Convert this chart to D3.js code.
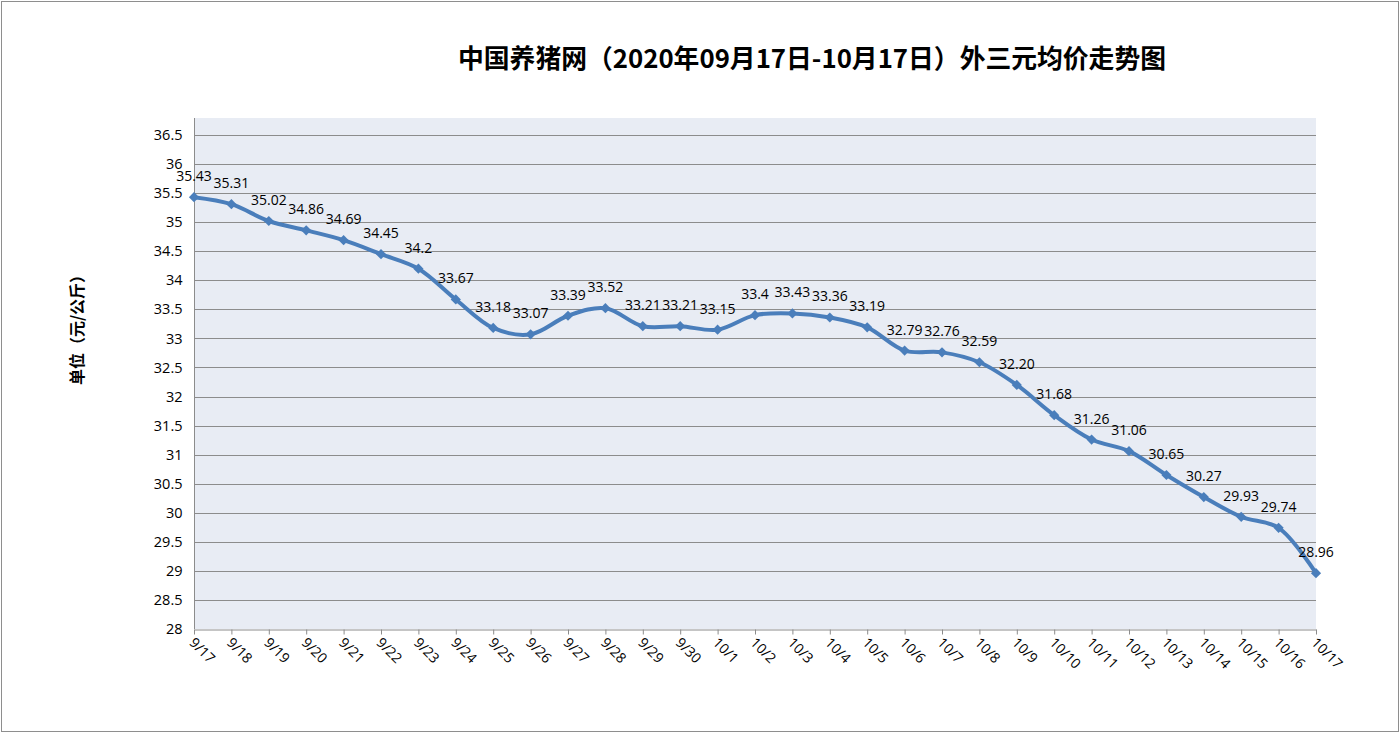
<!DOCTYPE html>
<html><head><meta charset="utf-8">
<script src="https://cdn.jsdelivr.net/npm/d3@7/dist/d3.min.js"></script>
<style>body{margin:0;background:#fff;}svg{display:block;}</style>
</head><body>
<script>
const categories = ["9/17","9/18","9/19","9/20","9/21","9/22","9/23","9/24","9/25","9/26","9/27","9/28","9/29","9/30","10/1","10/2","10/3","10/4","10/5","10/6","10/7","10/8","10/9","10/10","10/11","10/12","10/13","10/14","10/15","10/16","10/17"];
const prices = [35.43,35.31,35.02,34.86,34.69,34.45,34.2,33.67,33.18,33.07,33.39,33.52,33.21,33.21,33.15,33.4,33.43,33.36,33.19,32.79,32.76,32.59,32.20,31.68,31.26,31.06,30.65,30.27,29.93,29.74,28.96];
const priceLabels = ["35.43","35.31","35.02","34.86","34.69","34.45","34.2","33.67","33.18","33.07","33.39","33.52","33.21","33.21","33.15","33.4","33.43","33.36","33.19","32.79","32.76","32.59","32.20","31.68","31.26","31.06","30.65","30.27","29.93","29.74","28.96"];
const yTicks = [28,28.5,29,29.5,30,30.5,31,31.5,32,32.5,33,33.5,34,34.5,35,35.5,36,36.5];
const yTickLabels = ["28","28.5","29","29.5","30","30.5","31","31.5","32","32.5","33","33.5","34","34.5","35","35.5","36","36.5"];
const title = "中国养猪网（2020年09月17日-10月17日）外三元均价走势图";
const yTitle = "单位（元/公斤）";

(function(){
const W = 1400, H = 733;
const svg = d3.select("body").append("svg").attr("width", W).attr("height", H);
svg.append("rect").attr("x",1.5).attr("y",1.5).attr("width",W-3).attr("height",H-3)
  .attr("fill","#fff").attr("stroke","#8e8e8e").attr("stroke-width",1);

const pl = 194, pr = 1316, pt = 118, pb = 629;
const x = d3.scalePoint().domain(categories).range([pl, pr]);
const y = d3.scaleLinear().domain([28, 36.5]).range([pb, 135]);
const font = "'Open Sans','Noto Sans',sans-serif";

svg.append("rect").attr("x",pl).attr("y",pt).attr("width",pr-pl).attr("height",pb-pt).attr("fill","#E8ECF4");

svg.append("g").selectAll("line").data(yTicks.slice(1)).join("line")
  .attr("x1",pl).attr("x2",pr).attr("y1",d=>Math.round(y(d))+0.5).attr("y2",d=>Math.round(y(d))+0.5)
  .attr("stroke","#8c8c8c").attr("stroke-width",1);

const ya = svg.append("g").attr("transform",`translate(${pl+0.5},0)`)
  .call(d3.axisLeft(y).tickValues(yTicks).tickFormat((d,i)=>yTickLabels[i]).tickSize(0).tickPadding(12));
ya.select(".domain").attr("stroke","#8c8c8c").attr("d",`M0,${pt}V${pb}`);
ya.selectAll("text").attr("font-family",font).attr("font-size",14.5).attr("fill","#000");

const xa = svg.append("g").attr("transform",`translate(0,${pb+0.5})`)
  .call(d3.axisBottom(x).tickSize(5).tickSizeOuter(0));
xa.select(".domain").attr("stroke","#8c8c8c");
xa.selectAll("line").attr("stroke","#8c8c8c");
xa.selectAll("text").attr("font-family",font).attr("font-size",14).attr("fill","#000")
  .attr("text-anchor","start").attr("dy",0).attr("y",0)
  .attr("transform","translate(-6,14) rotate(45)");

const data = categories.map((c,i)=>({c, v:prices[i], l:priceLabels[i]}));
svg.append("path").datum(data)
  .attr("d", d3.line().x(d=>x(d.c)).y(d=>y(d.v)).curve(d3.curveCatmullRom.alpha(0.5)))
  .attr("fill","none").attr("stroke","#4A7EBB").attr("stroke-width",4).attr("stroke-linejoin","round");

svg.append("g").selectAll("path").data(data).join("path")
  .attr("d", d3.symbol().type(d3.symbolSquare).size(52))
  .attr("transform", d=>`translate(${x(d.c)},${y(d.v)}) rotate(45)`)
  .attr("fill","#4A7EBB");

svg.append("g").selectAll("text").data(data).join("text")
  .attr("x", d=>x(d.c)).attr("y", d=>y(d.v)-16)
  .attr("text-anchor","middle")
  .attr("font-family",font).attr("font-size",14).attr("fill","#000")
  .text(d=>d.l);

svg.append("text").attr("x",812).attr("y",68).attr("text-anchor","middle")
  .attr("font-family","'Noto Sans CJK SC',sans-serif").attr("font-weight","bold").attr("font-size",26)
  .attr("textLength",708).attr("lengthAdjust","spacingAndGlyphs")
  .attr("fill","#000").text(title);

svg.append("text").attr("transform","translate(83,326) rotate(-90)").attr("text-anchor","middle")
  .attr("font-family","'Noto Sans CJK SC',sans-serif").attr("font-weight","bold").attr("font-size",16)
  .attr("fill","#000").text(yTitle);
})();
</script>
</body></html>
